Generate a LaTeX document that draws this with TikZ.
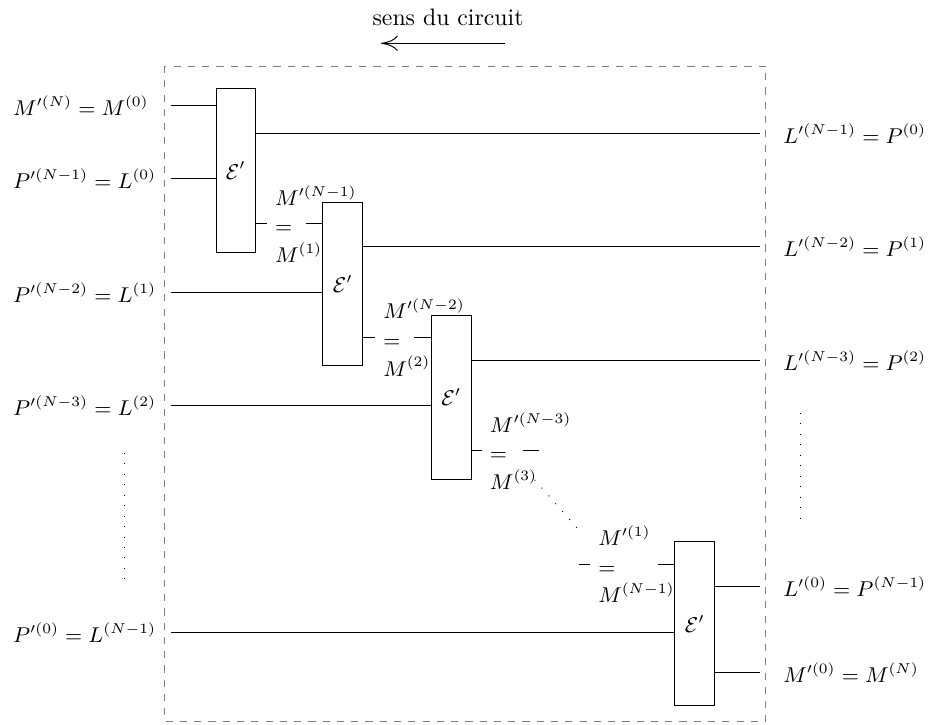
\documentclass[tikz,border=0pt]{standalone}
\usepackage{amsmath,amssymb}
\usepackage{tikz}
\usetikzlibrary{arrows.meta,positioning}
\begin{document}
\begin{tikzpicture}[>={To[length=7pt,width=6.5pt]},
 ebox/.style={draw,minimum width=0.59cm,minimum height=2.42cm,inner sep=0pt,font=\small},
 lab/.style={anchor=west,font=\small},
 stack/.style={anchor=west,align=left,font=\small}]
\useasboundingbox (0,0) rectangle (13.77,-10.71);
\node (title) at (6.62,-0.263) {sens du circuit};
\coordinate (a0) at (7.46,-0.64);
\coordinate (a1) at (5.63,-0.64);
\draw[->] (a0)--(a1);
\draw[dashed,gray] (2.437,-0.975) rectangle (11.315,-10.665);
\node[ebox] (e1) at (3.486,-2.52) {$\mathcal{E}'$};
\node[ebox] (e2) at (5.066,-4.195) {$\mathcal{E}'$};
\node[ebox] (e3) at (6.668,-5.87) {$\mathcal{E}'$};
\node[ebox] (e4) at (10.266,-9.217) {$\mathcal{E}'$};
\node[lab] (min) at (0.07,-1.555) {$M'^{(N)}=M^{(0)}$};
\node[lab] (p1) at (0.07,-2.640) {$P'^{(N-1)}=L^{(0)}$};
\node[lab] (p2) at (0.07,-4.321) {$P'^{(N-2)}=L^{(1)}$};
\node[lab] (p3) at (0.07,-5.997) {$P'^{(N-3)}=L^{(2)}$};
\node[lab] (p0) at (0.07,-9.346) {$P'^{(0)}=L^{(N-1)}$};
\node[lab] (l1) at (11.448,-1.979) {$L'^{(N-1)}=P^{(0)}$};
\node[lab] (l2) at (11.448,-3.648) {$L'^{(N-2)}=P^{(1)}$};
\node[lab] (l3) at (11.448,-5.325) {$L'^{(N-3)}=P^{(2)}$};
\node[lab] (l0) at (11.448,-8.671) {$L'^{(0)}=P^{(N-1)}$};
\node[lab] (mout) at (11.448,-9.937) {$M'^{(0)}=M^{(N)}$};
\coordinate (w0) at (2.52,-1.555);
\coordinate (w1) at (2.52,-2.640);
\coordinate (w2) at (2.52,-4.321);
\coordinate (w3) at (2.52,-5.997);
\coordinate (w4) at (2.52,-9.346);
\draw (w0) -- (w0 -| e1.west);
\draw (w1) -- (w1 -| e1.west);
\draw (w2) -- (w2 -| e2.west);
\draw (w3) -- (w3 -| e3.west);
\draw (w4) -- (w4 -| e4.west);
\coordinate (v1) at (11.226,-1.979);
\coordinate (v2) at (11.226,-3.648);
\coordinate (v3) at (11.226,-5.325);
\coordinate (v4) at (11.226,-8.671);
\coordinate (v5) at (11.226,-9.937);
\draw (e1.east |- v1) -- (v1);
\draw (e2.east |- v2) -- (v2);
\draw (e3.east |- v3) -- (v3);
\draw (e4.east |- v4) -- (v4);
\draw (e4.east |- v5) -- (v5);
\node[stack] (j1) at (3.94,-3.309) {$M'^{(N-1)}$\\[1pt]$=$\\[1pt]$M^{(1)}$};
\node[stack] (j2) at (5.539,-4.988) {$M'^{(N-2)}$\\[1pt]$=$\\[1pt]$M^{(2)}$};
\node[stack] (j3) at (7.115,-6.662) {$M'^{(N-3)}$\\[1pt]$=$\\[1pt]$M^{(3)}$};
\node[stack] (j4) at (8.715,-8.335) {$M'^{(1)}$\\[1pt]$=$\\[1pt]$M^{(N-1)}$};
\draw (e1.east |- j1.west) -- (j1.west);
\draw (e2.east |- j2.west) -- (j2.west);
\draw (e3.east |- j3.west) -- (j3.west);
\draw ([xshift=-0.16cm]j4.west) -- (j4.west);
\draw ([xshift=-0.245cm]e2.west |- j1.west) -- (e2.west |- j1.west);
\draw ([xshift=-0.245cm]e3.west |- j2.west) -- (e3.west |- j2.west);
\draw ([xshift=-0.245cm]j3.west -| e3.east) ++(0.995,0) -- ++(0.245,0);
\draw ([xshift=-0.245cm]e4.west |- j4.west) -- (e4.west |- j4.west);
\draw[loosely dotted] (1.846,-6.69) -- (1.846,-8.67);
\draw[loosely dotted] (11.82,-6.10) -- (11.82,-7.65);
\draw[loosely dotted] (7.90,-7.09) -- (8.57,-7.85);
\end{tikzpicture}
\end{document}
